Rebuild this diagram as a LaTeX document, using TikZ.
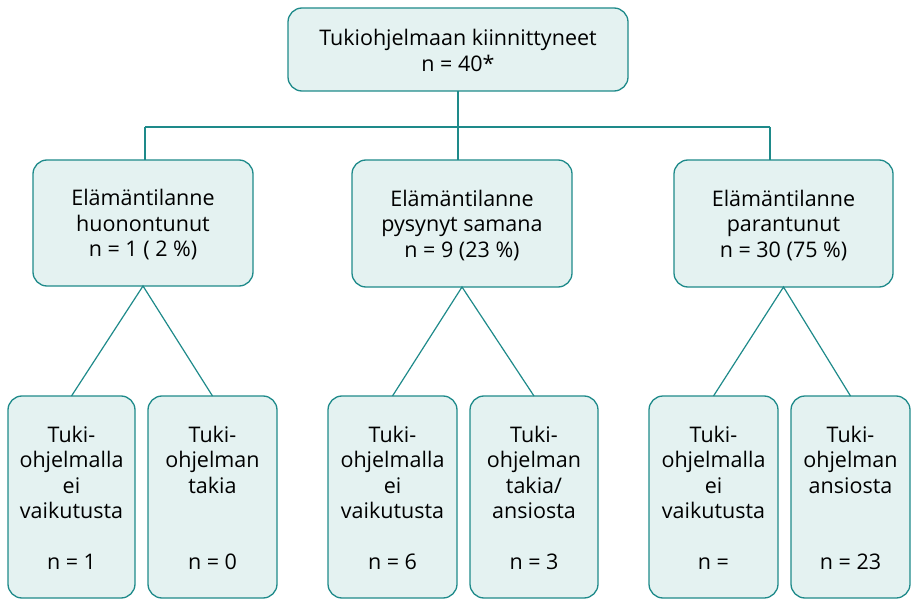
\documentclass[tikz,border=0pt]{standalone}
\usepackage{fontspec}
\setmainfont{Open Sans}
\definecolor{tealline}{HTML}{1E8A8A}
\definecolor{tealfill}{HTML}{E4F2F1}
\tikzset{
  box/.style={draw=tealline, fill=tealfill, line width=1.3pt, rounded corners=14pt,
    inner sep=0pt, outer sep=0pt, text=black},
  conn/.style={draw=tealline, line width=1.2pt},
}
\newcommand{\boxtext}[5]{\parbox[c][#2][t]{#1}{\centering\fontsize{21.5}{#3}\selectfont\rule{0pt}{#4}#5}}
\begin{document}
\begin{tikzpicture}[x=1pt,y=-1pt]
\useasboundingbox (0,0) rectangle (911,599);
% top
\node[box] (top) at (458,49.5) {\boxtext{340pt}{83pt}{26pt}{38pt}{Tukiohjelmaan kiinnittyneet\\n = 40*}};
% middle row
\node[box] (mid1) at (143,223) {\boxtext{220pt}{126pt}{25.5pt}{46pt}{Elämäntilanne\\huonontunut\\n = 1 ( 2 \%)}};
\node[box] (mid2) at (462,223.5) {\boxtext{220pt}{127pt}{25.5pt}{46pt}{Elämäntilanne\\pysynyt samana\\n = 9 (23 \%)}};
\node[box] (mid3) at (783.5,223.5) {\boxtext{219pt}{127pt}{25.5pt}{46pt}{Elämäntilanne\\parantunut\\n = 30 (75 \%)}};
% bottom row
\node[box] (b1) at (71.5,497) {\boxtext{127pt}{202pt}{25.5pt}{46pt}{Tuki-\\ohjelmalla\\ei\\vaikutusta\\[25.5pt]n = 1}};
\node[box] (b2) at (212.5,497) {\boxtext{129pt}{202pt}{25.5pt}{46pt}{Tuki-\\ohjelman\\takia\\[51pt]n = 0}};
\node[box] (b3) at (392.5,497) {\boxtext{129pt}{202pt}{25.5pt}{46pt}{Tuki-\\ohjelmalla\\ei\\vaikutusta\\[25.5pt]n = 6}};
\node[box] (b4) at (534,497) {\boxtext{128pt}{202pt}{25.5pt}{46pt}{Tuki-\\ohjelman\\takia/\\ansiosta\\[25.5pt]n = 3}};
\node[box] (b5) at (713.5,497) {\boxtext{129pt}{202pt}{25.5pt}{46pt}{Tuki-\\ohjelmalla\\ei\\vaikutusta\\[25.5pt]n =}};
\node[box] (b6) at (850.5,497) {\boxtext{119pt}{202pt}{25.5pt}{46pt}{Tuki-\\ohjelman\\ansiosta\\[51pt]n = 23}};
% connectors top -> middle
\coordinate (hl) at (145,127);
\coordinate (hr) at (770,127);
\draw[conn] (top.south) -- (top.south |- mid2.north);
\draw[conn] (hl) -- (hr);
\draw[conn] (hl) -- (hl |- mid1.north);
\draw[conn] (hr) -- (hr |- mid3.north);
% connectors middle -> bottom
\draw[conn] (b1.north) -- (mid1.south) -- (b2.north);
\draw[conn] (b3.north) -- (mid2.south) -- (b4.north);
\draw[conn] (b5.north) -- (mid3.south) -- (b6.north);
\end{tikzpicture}
\end{document}
